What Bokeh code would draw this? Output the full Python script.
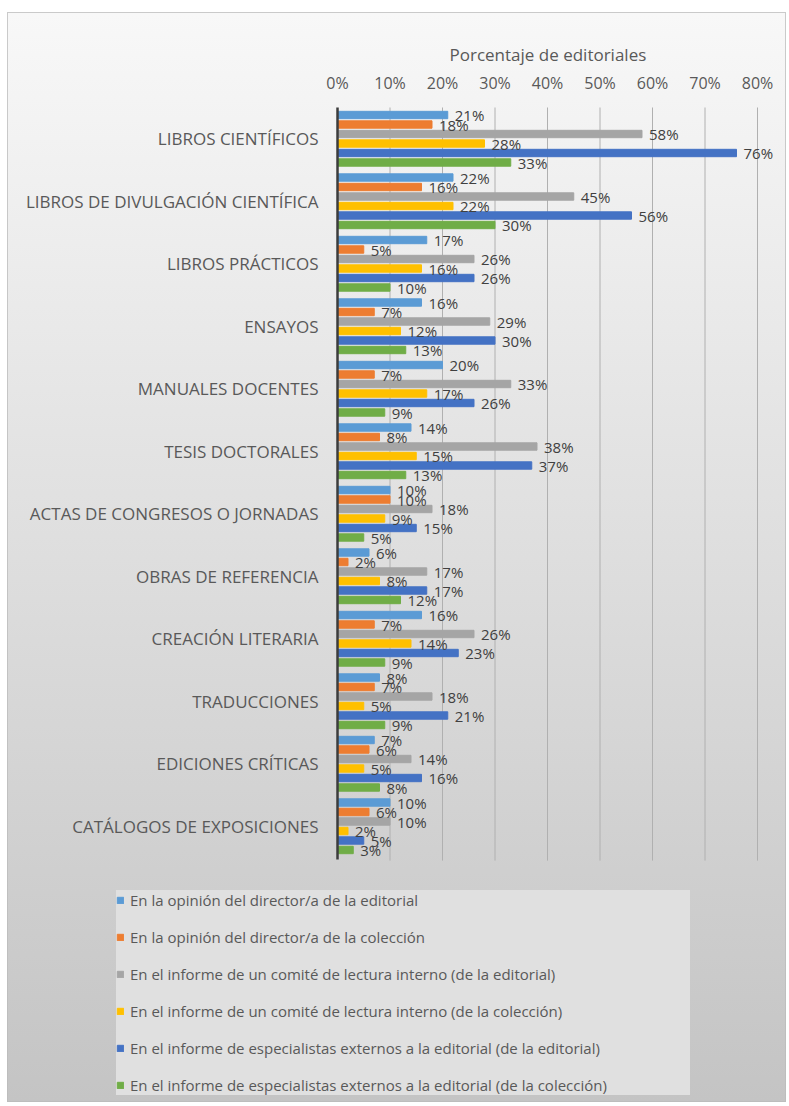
from bokeh.plotting import figure
from bokeh.models import ColumnDataSource, LabelSet, PrintfTickFormatter, FixedTicker
from bokeh.embed import file_html
from bokeh.resources import INLINE
from bokeh.core.properties import value

categories = [
    "LIBROS CIENTÍFICOS",
    "LIBROS DE DIVULGACIÓN CIENTÍFICA",
    "LIBROS PRÁCTICOS",
    "ENSAYOS",
    "MANUALES DOCENTES",
    "TESIS DOCTORALES",
    "ACTAS DE CONGRESOS O JORNADAS",
    "OBRAS DE REFERENCIA",
    "CREACIÓN LITERARIA",
    "TRADUCCIONES",
    "EDICIONES CRÍTICAS",
    "CATÁLOGOS DE EXPOSICIONES",
]

series_names = [
    "En la opinión del director/a de la editorial",
    "En la opinión del director/a de la colección",
    "En el informe de un comité de lectura interno (de la editorial)",
    "En el informe de un comité de lectura interno (de la colección)",
    "En el informe de especialistas externos a la editorial (de la editorial)",
    "En el informe de especialistas externos a la editorial (de la colección)",
]

director_editorial = [21, 22, 17, 16, 20, 14, 10, 6, 16, 8, 7, 10]
director_coleccion = [18, 16, 5, 7, 7, 8, 10, 2, 7, 7, 6, 6]
comite_editorial = [58, 45, 26, 29, 33, 38, 18, 17, 26, 18, 14, 10]
comite_coleccion = [28, 22, 16, 12, 17, 15, 9, 8, 14, 5, 5, 2]
externos_editorial = [76, 56, 26, 30, 26, 37, 15, 17, 23, 21, 16, 5]
externos_coleccion = [33, 30, 10, 13, 9, 13, 5, 12, 9, 9, 8, 3]

series_values = [director_editorial, director_coleccion, comite_editorial,
                 comite_coleccion, externos_editorial, externos_coleccion]

colors = ["#5B9BD5", "#ED7D31", "#A5A5A5", "#FFC000", "#4472C4", "#70AD47"]
x_ticks = [0, 10, 20, 30, 40, 50, 60, 70, 80]
axis_title = "Porcentaje de editoriales"

FONT = "Open Sans"
n = len(categories)
cat_pos = list(range(n, 0, -1))          # first category on top

p = figure(
    width=789, height=1106,
    x_range=(-62.67, 84), y_range=(-3.42, n + 0.5),
    x_axis_location="above", y_axis_location=None,
    output_backend="svg", toolbar_location=None,
    min_border_left=8, min_border_right=11,
    min_border_top=107, min_border_bottom=4,
)
p.styles = {"background": (
    "linear-gradient(#f8f8f8, #c4c4c4) 8px 13px / 777px 1088px no-repeat, "
    "linear-gradient(#cacaca, #bdbdbd) 7px 12px / 779px 1090px no-repeat, "
    "#ffffff")}
p.border_fill_color = None
p.background_fill_color = None
p.outline_line_color = None
p.grid.visible = False

# vertical grid lines at the percentage ticks
grid_src = ColumnDataSource(dict(t=x_ticks[1:]))
p.segment(x0="t", x1="t", y0=0.45, y1=n + 0.57, source=grid_src,
          line_color="#b0b0b0", line_width=1)

# bars + value labels
pitch = 0.152
for i, (name, vals, col) in enumerate(zip(series_names, series_values, colors)):
    off = (2.5 - i) * pitch
    src = ColumnDataSource(dict(y=[c + off for c in cat_pos], val=vals,
                                lab=[f"{v}%" for v in vals]))
    p.hbar(y="y", left=0, right="val", height=0.118, color=col,
           source=src, legend_label=name)
    p.add_layout(LabelSet(x="val", y="y", text="lab", source=src, x_offset=7,
                          text_baseline="middle", text_align="left",
                          text_font=value(FONT), text_font_size="15px",
                          text_color="#404040"))

# category axis: line at 0 % and category names
p.segment(x0=0, x1=0, y0=0.47, y1=n + 0.56, line_color="#3c3c3c", line_width=2.5)
cat_src = ColumnDataSource(dict(y=cat_pos, name=categories))
p.add_layout(LabelSet(x=0, y="y", text="name", source=cat_src, x_offset=-19,
                      text_align="right", text_baseline="middle",
                      text_font=value(FONT), text_font_size="17px",
                      text_color="#595959"))

# title (centred over 0-80 %)
p.title.text = axis_title
p.title.align = "left"
p.title.offset = 441
p.title.text_font = FONT
p.title.text_font_size = "17px"
p.title.text_font_style = "normal"
p.title.text_color = "#595959"
p.title.standoff = 6

p.xaxis.ticker = FixedTicker(ticks=x_ticks)
p.xaxis.formatter = PrintfTickFormatter(format="%d%%")
p.xaxis.axis_line_color = None
p.xaxis.major_tick_line_color = None
p.xaxis.minor_tick_line_color = None
p.xaxis.major_label_text_font = FONT
p.xaxis.major_label_text_font_size = "16px"
p.xaxis.major_label_text_color = "#595959"
p.xaxis.major_label_standoff = 8

# legend
lg = p.legend[0]
lg.location = (108, 7)
lg.margin = 0
lg.padding = 5
lg.background_fill_color = "#e0e0e0"
lg.background_fill_alpha = 1.0
lg.border_line_color = None
lg.label_text_font = FONT
lg.label_text_font_size = "15px"
lg.label_text_color = "#595959"
lg.glyph_width = 8
lg.glyph_height = 8
lg.label_height = 20
lg.label_width = 560
lg.spacing = 17
lg.label_standoff = 6

open("out.html", "w").write(file_html(p, INLINE))
